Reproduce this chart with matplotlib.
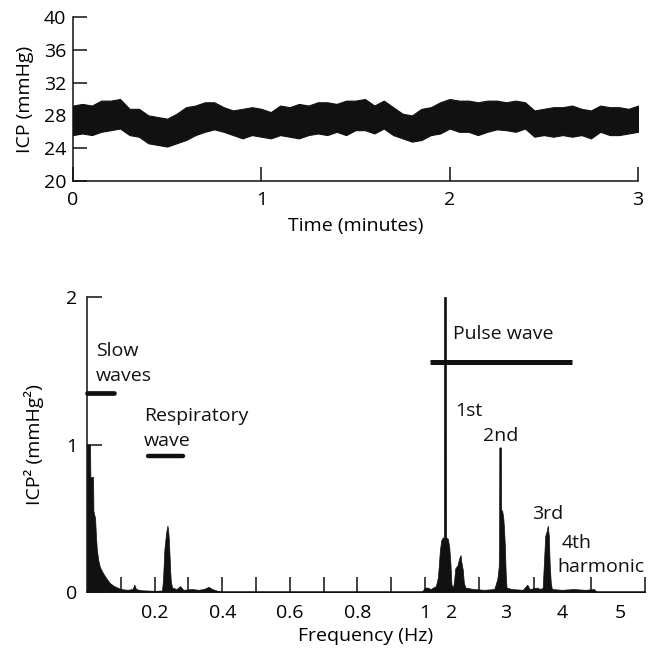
import numpy as np
import matplotlib
matplotlib.use("Agg")
import matplotlib.pyplot as plt

plt.rcParams["font.family"] = ["Open Sans", "DejaVu Sans"]
plt.rcParams["font.size"] = 14

INK = "#111111"
FS = 14

# ---------------- ICP recording (upper / lower envelope of the trace) ----------------
time_min = np.round(np.arange(61) * 0.05, 2)
icp_upper = [
    29.2, 29.4, 29.2, 29.8, 29.8, 30.0, 28.8, 28.8, 28.0, 27.8, 27.6, 28.2, 29.0, 29.2, 29.6,
    29.6, 29.0, 28.6, 28.8, 29.0, 28.8, 28.4, 29.2, 29.0, 29.4, 29.2, 29.6, 29.6, 29.4, 29.8,
    29.8, 30.0, 29.2, 29.8, 29.0, 28.2, 28.0, 28.8, 29.0, 29.6, 30.0, 29.8, 29.8, 29.6, 29.8,
    29.8, 29.6, 29.8, 29.6, 28.6, 28.8, 29.0, 29.0, 29.2, 28.8, 28.6, 29.2, 29.0, 29.0, 28.8, 29.2,
]
icp_lower = [
    25.6, 25.8, 25.6, 26.0, 26.2, 26.4, 25.6, 25.4, 24.6, 24.4, 24.2, 24.6, 25.0, 25.6, 26.0,
    26.3, 26.0, 25.6, 25.2, 25.6, 25.4, 25.2, 25.6, 25.4, 25.2, 25.6, 25.8, 25.6, 26.0, 25.6,
    26.2, 26.2, 25.8, 26.4, 25.6, 25.2, 24.8, 25.0, 25.6, 25.8, 26.4, 26.0, 26.0, 25.6, 26.0,
    26.3, 26.2, 26.0, 26.4, 25.4, 25.6, 25.4, 25.6, 25.4, 25.6, 25.2, 26.0, 25.6, 25.6, 25.8, 26.0,
]
icp_ticks = [20, 24, 28, 32, 36, 40]
time_ticks = [0, 1, 2, 3]

# ---------------- ICP power spectrum ----------------
freq_hz = [
    0.000, 0.009, 0.010, 0.018, 0.019, 0.024, 0.026, 0.029, 0.033, 0.038, 0.047, 0.058,
    0.068, 0.080, 0.090, 0.100, 0.120, 0.135, 0.140, 0.145, 0.160, 0.180, 0.200,
    0.222, 0.225, 0.229, 0.234, 0.238, 0.240, 0.242, 0.244, 0.246, 0.248, 0.252,
    0.265, 0.275, 0.285, 0.310, 0.330, 0.345, 0.360, 0.370, 0.390, 0.400, 0.990,
    1.000, 1.100, 1.200, 1.300, 1.400, 1.480, 1.550, 1.600, 1.660, 1.700, 1.705, 1.775, 1.780,
    1.850, 1.900, 1.940, 1.980, 2.020, 2.040, 2.060, 2.100, 2.135, 2.160, 2.170, 2.200,
    2.220, 2.250, 2.400, 2.600, 2.780, 2.800, 2.840, 2.865, 2.872, 2.876, 2.906, 2.910,
    2.930, 2.950, 2.965, 2.980, 2.995, 3.010, 3.100, 3.300, 3.380, 3.420, 3.550, 3.620,
    3.655, 3.680, 3.700, 3.725, 3.745, 3.765, 3.780, 3.800, 3.820, 4.000, 4.200, 4.400,
    4.550, 4.600, 5.500,
]
power = [
    1.00, 1.00, 0.78, 0.78, 0.55, 0.50, 0.40, 0.29, 0.22, 0.17, 0.13, 0.09,
    0.06, 0.04, 0.03, 0.02, 0.015, 0.02, 0.05, 0.02, 0.012, 0.01, 0.008,
    0.01, 0.09, 0.29, 0.40, 0.45, 0.42, 0.36, 0.26, 0.15, 0.07, 0.03,
    0.02, 0.04, 0.015, 0.02, 0.015, 0.02, 0.035, 0.02, 0.005, 0.0, 0.0,
    0.03, 0.03, 0.02, 0.03, 0.04, 0.10, 0.28, 0.35, 0.37, 0.37, 2.00, 2.00, 0.37,
    0.36, 0.30, 0.20, 0.05, 0.03, 0.08, 0.16, 0.18, 0.23, 0.25, 0.21, 0.15,
    0.06, 0.03, 0.02, 0.015, 0.02, 0.04, 0.09, 0.17, 0.30, 0.98, 0.98, 0.56,
    0.55, 0.50, 0.42, 0.30, 0.12, 0.03, 0.02, 0.015, 0.05, 0.02, 0.03, 0.02,
    0.03, 0.22, 0.38, 0.41, 0.45, 0.38, 0.19, 0.06, 0.02, 0.015, 0.02, 0.015,
    0.02, 0.0, 0.0,
]
freq_labels = [0.2, 0.4, 0.6, 0.8, 1, 2, 3, 4, 5]
freq_label_text = ["0.2", "0.4", "0.6", "0.8", "1", "2", "3", "4", "5"]
freq_marks = [0.1, 0.2, 0.3, 0.4, 0.5, 0.6, 0.7, 0.8, 0.9, 1.0, 2.5, 3.5, 4.5, 5.5]
power_ticks = [0, 1, 2]

# Broken frequency axis: linear below 1 Hz, compressed above
F_NODES = np.array([0.0, 1.0, 2.0, 3.0, 4.0, 5.0, 5.5])
U_NODES = np.array([0.0, 338.0, 365.0, 419.0, 475.0, 533.0, 558.0])


def f_forward(f):
    return np.interp(f, F_NODES, U_NODES, left=U_NODES[0], right=U_NODES[-1])


def f_inverse(u):
    return np.interp(u, U_NODES, F_NODES, left=F_NODES[0], right=F_NODES[-1])


W, H = 649, 650
fig = plt.figure(figsize=(W / 100, H / 100), dpi=100)


def style_axes(ax):
    for s in ("top", "right"):
        ax.spines[s].set_visible(False)
    for s in ("left", "bottom"):
        ax.spines[s].set_linewidth(1.1)
        ax.spines[s].set_color(INK)


# ---- upper panel: ICP vs time ----
ax1 = fig.add_axes([73 / W, 1 - 181 / H, 565 / W, 164 / H])
style_axes(ax1)
ax1.fill_between(time_min, icp_lower, icp_upper, color=INK, lw=0.8, edgecolor=INK)
ax1.set_xlim(0, 3)
ax1.set_ylim(20, 40)
ax1.set_xticks(time_ticks)
ax1.set_yticks(icp_ticks)
ax1.tick_params(axis="both", direction="in", length=10, width=1.1, color=INK, labelsize=FS)
ax1.tick_params(axis="x", pad=7)
ax1.tick_params(axis="y", pad=5)
ax1.set_xlabel("Time (minutes)", fontsize=FS, labelpad=6)
ax1.set_ylabel("ICP (mmHg)", fontsize=FS, labelpad=7)

# ---- lower panel: spectrum ----
ax2 = fig.add_axes([87 / W, 1 - 592 / H, 558 / W, 295 / H])
style_axes(ax2)
ax2.set_xscale("function", functions=(f_forward, f_inverse))
ax2.set_xlim(0, 5.5)
ax2.set_ylim(0, 2)
ax2.fill_between(freq_hz, 0, power, color=INK, lw=0.5, edgecolor=INK)

ax2.xaxis.remove_overlapping_locs = False
ax2.set_xticks(freq_labels)
ax2.set_xticklabels(freq_label_text)
ax2.set_xticks(freq_marks, minor=True)
ax2.tick_params(axis="x", which="major", length=0, pad=9, labelsize=FS)
ax2.tick_params(axis="x", which="minor", direction="in", length=11, width=1.1, color=INK)
ax2.set_yticks(power_ticks)
ax2.tick_params(axis="y", direction="in", length=11, width=1.1, color=INK, pad=7, labelsize=FS)
ax2.set_xlabel("Frequency (Hz)", fontsize=FS, labelpad=3)
ax2.set_ylabel("ICP² (mmHg²)", fontsize=FS, labelpad=16)

# band markers
ax2.plot([0.0, 0.08], [1.35, 1.35], color=INK, lw=3.4, solid_capstyle="round", clip_on=False)
ax2.plot([0.18, 0.283], [0.925, 0.925], color=INK, lw=3.2, solid_capstyle="round")
ax2.plot([1.19, 4.17], [1.558, 1.558], color=INK, lw=3.6, solid_capstyle="butt")

# annotations
txt = dict(fontsize=FS, color=INK, va="baseline", ha="left")
ax2.text(0.027, 1.599, "Slow", **txt)
ax2.text(0.027, 1.429, "waves", **txt)
ax2.text(0.169, 1.156, "Respiratory", **txt)
ax2.text(0.169, 0.993, "wave", **txt)
ax2.text(2.025, 1.714, "Pulse wave", **txt)
ax2.text(2.056, 1.193, "1st", **txt)
ax2.text(2.58, 1.022, "2nd", **txt)
ax2.text(3.46, 0.494, "3rd", **txt)
ax2.text(3.99, 0.297, "4th", **txt)
ax2.text(3.925, 0.134, "harmonic", **txt)

fig.savefig("out.png", dpi=100, facecolor="white")
